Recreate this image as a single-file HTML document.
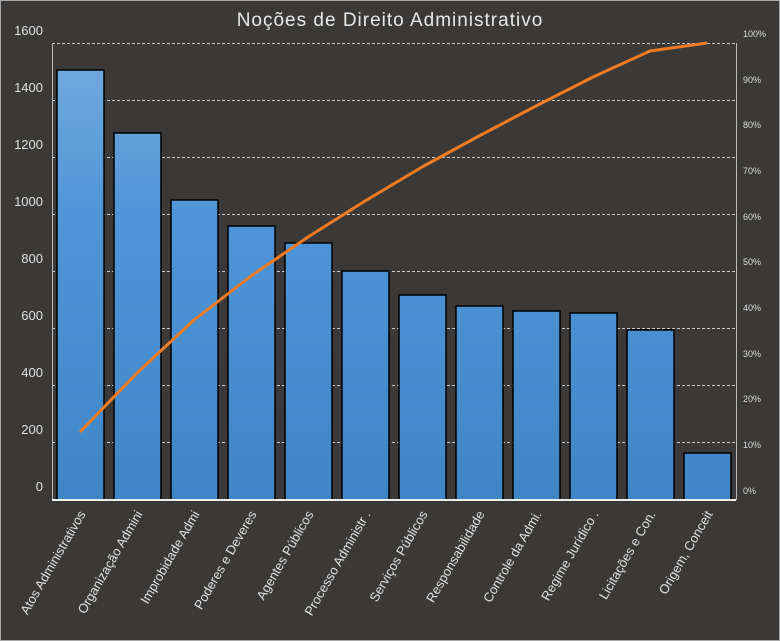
<!DOCTYPE html>
<html><head><style>
html,body{margin:0;padding:0;background:#3a3937;}
svg{display:block;font-family:"Liberation Sans",sans-serif;}
</style></head><body>
<svg width="780" height="641" viewBox="0 0 780 641">
<defs>
<linearGradient id="g" gradientUnits="userSpaceOnUse" x1="0" y1="60" x2="0" y2="500">
<stop offset="0" stop-color="#72a9de"/><stop offset="0.35" stop-color="#4f96d8"/><stop offset="1" stop-color="#3f86c7"/>
</linearGradient>
</defs>
<rect x="0.5" y="0.5" width="779" height="640" fill="#3a3937" stroke="#a8a8a8"/>
<text x="390" y="26" text-anchor="middle" font-size="19" fill="#e8e8e8" letter-spacing="1">Noções de Direito Administrativo</text>
<g stroke="#c8c8c8" stroke-dasharray="3,2" stroke-width="1">
<line x1="52" x2="736" y1="43.5" y2="43.5"/>
<line x1="52" x2="736" y1="100.5" y2="100.5"/>
<line x1="52" x2="736" y1="157.5" y2="157.5"/>
<line x1="52" x2="736" y1="214.5" y2="214.5"/>
<line x1="52" x2="736" y1="271.5" y2="271.5"/>
<line x1="52" x2="736" y1="328.5" y2="328.5"/>
<line x1="52" x2="736" y1="385.5" y2="385.5"/>
<line x1="52" x2="736" y1="442.5" y2="442.5"/>
</g>
<line x1="52.5" x2="52.5" y1="43" y2="500" stroke="#bbb"/>
<line x1="736.5" x2="736.5" y1="43" y2="500" stroke="#bbb"/>
<g fill="url(#g)" stroke="#000" stroke-width="1.5">
<rect x="57" y="70" width="47" height="430"/>
<rect x="114" y="133" width="47" height="367"/>
<rect x="171" y="200" width="47" height="300"/>
<rect x="228" y="226" width="47" height="274"/>
<rect x="285" y="243" width="47" height="257"/>
<rect x="342" y="271" width="47" height="229"/>
<rect x="399" y="295" width="47" height="205"/>
<rect x="456" y="306" width="47" height="194"/>
<rect x="513" y="311" width="47" height="189"/>
<rect x="570" y="313" width="47" height="187"/>
<rect x="627" y="330" width="47" height="170"/>
<rect x="684" y="453" width="47" height="47"/>
</g>
<line x1="52" x2="736" y1="500" y2="500" stroke="#eee" stroke-width="2"/>
<polyline fill="none" stroke="#f07b22" stroke-width="3" stroke-linejoin="round" points="80,432 137,373 194,320 251,276 308,237 365,201 422,167 479,136 536,106 593,77 650,51 707,43"/>
<g font-size="13" fill="#e0e0e0" text-anchor="end">
<text x="43" y="35">1600</text>
<text x="43" y="92">1400</text>
<text x="43" y="149">1200</text>
<text x="43" y="206">1000</text>
<text x="43" y="263">800</text>
<text x="43" y="320">600</text>
<text x="43" y="377">400</text>
<text x="43" y="434">200</text>
<text x="43" y="491">0</text>
</g>
<g font-size="9" fill="#dcdcdc">
<text x="743" y="37">100%</text>
<text x="743" y="83">90%</text>
<text x="743" y="128">80%</text>
<text x="743" y="174">70%</text>
<text x="743" y="220">60%</text>
<text x="743" y="265">50%</text>
<text x="743" y="311">40%</text>
<text x="743" y="357">30%</text>
<text x="743" y="402">20%</text>
<text x="743" y="448">10%</text>
<text x="743" y="494">0%</text>
</g>
<g font-size="13" fill="#e0e0e0" text-anchor="end">
<text transform="translate(86,514) rotate(-60)">Atos Administrativos</text>
<text transform="translate(143,514) rotate(-60)">Organização Admini</text>
<text transform="translate(200,514) rotate(-60)">Improbidade  Admi</text>
<text transform="translate(257,514) rotate(-60)">Poderes e Deveres</text>
<text transform="translate(314,514) rotate(-60)">Agentes Públicos</text>
<text transform="translate(371,514) rotate(-60)">Processo Administr .</text>
<text transform="translate(428,514) rotate(-60)">Serviços  Públicos</text>
<text transform="translate(485,514) rotate(-60)">Responsabilidade</text>
<text transform="translate(542,514) rotate(-60)">Controle  da Admi.</text>
<text transform="translate(599,514) rotate(-60)">Regime Jurídico  .</text>
<text transform="translate(656,514) rotate(-60)">Licitações e Con.</text>
<text transform="translate(713,514) rotate(-60)">Origem, Conceit</text>
</g>
</svg>
</body></html>
